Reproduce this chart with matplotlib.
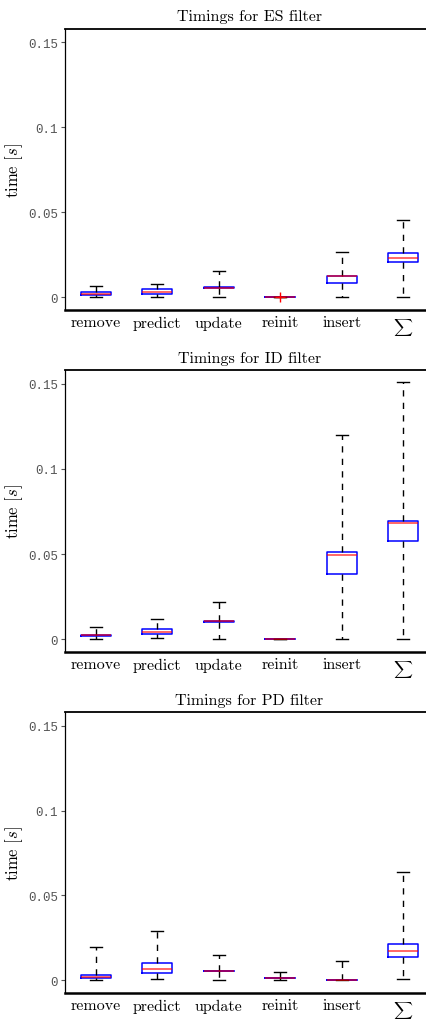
import matplotlib
matplotlib.use("Agg")
import matplotlib.pyplot as plt

plt.rcParams['mathtext.fontset'] = 'cm'
plt.rcParams['axes.unicode_minus'] = False

steps = ['remove', 'predict', 'update', 'reinit', 'insert', r'$\sum$']
filters = ['ES', 'ID', 'PD']

# per filter: whisker low, q1, median, q3, whisker high
es_lo = [0.0, 0.0005, 0.0, 0.0, 0.0, 0.0005]
es_q1 = [0.0015, 0.0019, 0.0057, 0.0, 0.0085, 0.0209]
es_med = [0.0019, 0.0034, 0.0058, 0.0, 0.0125, 0.0234]
es_q3 = [0.003, 0.0048, 0.0059, 0.0, 0.0128, 0.026]
es_hi = [0.0068, 0.0078, 0.0154, 0.0, 0.0268, 0.0452]
es_fliers = [[], [], [], [0.0003], [], []]

id_lo = [0.0, 0.0006, 0.0, 0.0, 0.0, 0.0004]
id_q1 = [0.0022, 0.0033, 0.0101, 0.0001, 0.0386, 0.0576]
id_med = [0.0025, 0.0045, 0.0105, 0.0002, 0.0496, 0.068]
id_q3 = [0.0027, 0.0061, 0.0107, 0.0003, 0.0514, 0.0694]
id_hi = [0.0075, 0.0122, 0.0218, 0.0003, 0.1197, 0.1508]
id_fliers = [[], [], [], [], [], []]

pd_lo = [0.0, 0.0006, 0.0, 0.0, 0.0, 0.0006]
pd_q1 = [0.0012, 0.0045, 0.0056, 0.0015, 0.0002, 0.0139]
pd_med = [0.0022, 0.0069, 0.0057, 0.0016, 0.0003, 0.0171]
pd_q3 = [0.0034, 0.01, 0.0058, 0.0017, 0.0004, 0.0212]
pd_hi = [0.0198, 0.0292, 0.0149, 0.0047, 0.0114, 0.0641]
pd_fliers = [[], [], [], [], [], []]

data = {
    'ES': (es_lo, es_q1, es_med, es_q3, es_hi, es_fliers),
    'ID': (id_lo, id_q1, id_med, id_q3, id_hi, id_fliers),
    'PD': (pd_lo, pd_q1, pd_med, pd_q3, pd_hi, pd_fliers),
}

fig = plt.figure(figsize=(4.26, 10.2), dpi=100)
W, H = 426.0, 1020.0
# axes boxes in pixels: (top, bottom)
frames = [(29.5, 311), (371, 653), (713, 994)]
left_px, right_px = 65, 434

for name, (top, bot) in zip(filters, frames):
    ax = fig.add_axes([left_px / W, 1 - bot / H, (right_px - left_px) / W, (bot - top) / H])
    lo, q1, med, q3, hi, fl = data[name]
    stats = []
    for i in range(len(steps)):
        stats.append(dict(whislo=lo[i], q1=q1[i], med=med[i], q3=q3[i],
                          whishi=hi[i], fliers=fl[i]))
    ax.bxp(stats, positions=range(1, 7), widths=0.49, capwidths=0.2,
           boxprops=dict(color='blue', linewidth=1.1),
           medianprops=dict(color='red', linewidth=1.4, alpha=0.6),
           whiskerprops=dict(color='black', linestyle=(0, (4.5, 4.5)), linewidth=1.0),
           capprops=dict(color='black', linewidth=1.0),
           flierprops=dict(marker='+', markeredgecolor='red', markersize=7))
    ax.set_xlim(0.5, 6.5)
    ax.set_ylim(-0.0074, 0.158)
    ax.set_yticks([0, 0.05, 0.1, 0.15])
    ax.set_yticklabels(['0', '0.05', '0.1', '0.15'], family='Liberation Mono',
                       fontsize=9, color='#555555')
    ax.set_xticks(range(1, 7))
    ax.set_xticklabels(steps, family='cmr10', fontsize=11.5)
    for lab in ax.get_xticklabels():
        if lab.get_text().startswith('$'):
            lab.set_fontsize(9.5)
    ax.tick_params(axis='x', length=0, pad=4)
    ax.tick_params(axis='y', length=3, width=0.8, color='#555555', direction='out', pad=2)
    ax.spines['right'].set_visible(False)
    ax.spines['left'].set_linewidth(0.9)
    ax.spines['top'].set_linewidth(1.3)
    ax.spines['bottom'].set_linewidth(1.8)
    ax.set_title('Timings for %s filter' % name, family='cmr10', fontsize=11.5, pad=6)
    ax.set_ylabel(r'time [$s$]', family='cmr10', fontsize=12, labelpad=2)

fig.savefig('out.png', dpi=100)
